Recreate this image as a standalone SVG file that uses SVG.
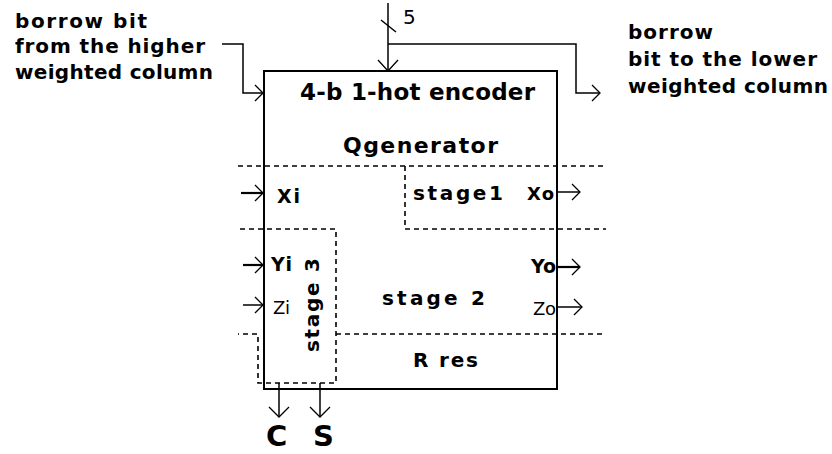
<svg xmlns="http://www.w3.org/2000/svg" width="832" height="454" viewBox="0 0 832 454">
<style>
  text { font-family: "DejaVu Sans", "Liberation Sans", sans-serif; fill: #000; }
  .b { font-weight: bold; }
  .lbl { font-size: 20px; font-weight: bold; }
  .box { fill: #fff; stroke: #000; stroke-width: 2; }
  .dash { fill: none; stroke: #000; stroke-width: 1.6; stroke-dasharray: 5 4; }
  .wire { fill: none; stroke: #000; stroke-width: 1.5; }
  .thick { fill: none; stroke: #000; stroke-width: 2.2; }
  .head { fill: none; stroke: #000; stroke-width: 1.3; }
</style>
<rect width="832" height="454" fill="#fff"/>

<g id="encoder">
  <rect class="box" x="264" y="71" width="293" height="318"/>
  <text class="b" x="300" y="100" font-size="23" textLength="235" lengthAdjust="spacing">4-b 1-hot encoder</text>
  <text class="b" x="343" y="153" font-size="22" textLength="155" lengthAdjust="spacing">Qgenerator</text>
</g>

<g id="regions">
  <path class="dash" d="M238 166 H606"/>
  <path class="dash" d="M405 166 V229 H606"/>
  <path class="dash" d="M240 229 H336 V383 H258 V334 H238"/>
  <path class="dash" d="M336 334 H606"/>
</g>

<g id="stage1">
  <text class="lbl" x="413" y="200" textLength="90" lengthAdjust="spacing">stage1</text>
</g>
<g id="stage2">
  <text class="lbl" x="382" y="305" textLength="103" lengthAdjust="spacing">stage 2</text>
</g>
<g id="stage3">
  <text class="lbl" transform="translate(319 352) rotate(-90)" x="0" y="0" textLength="94" lengthAdjust="spacing">stage 3</text>
</g>
<g id="rres">
  <text class="lbl" x="413" y="367" textLength="65" lengthAdjust="spacing">R res</text>
</g>

<g id="ports">
  <text class="b" x="277" y="203" font-size="19" textLength="23" lengthAdjust="spacing">Xi</text>
  <text class="b" x="271" y="271" font-size="19" textLength="21" lengthAdjust="spacing">Yi</text>
  <text x="273" y="314" font-size="18" textLength="17" lengthAdjust="spacing">Zi</text>
  <text class="b" x="527" y="200" font-size="18" textLength="27" lengthAdjust="spacing">Xo</text>
  <text class="b" x="531" y="273" font-size="19" textLength="25" lengthAdjust="spacing">Yo</text>
  <text x="533" y="315" font-size="18" textLength="23" lengthAdjust="spacing">Zo</text>
  <text class="b" x="266" y="446" font-size="29">C</text>
  <text class="b" x="313" y="446" font-size="29">S</text>
  <text x="403" y="24" font-size="20">5</text>
</g>

<g id="notes">
  <text class="lbl" x="15" y="28" textLength="132" lengthAdjust="spacing">borrow bit</text>
  <text class="lbl" x="15" y="53" textLength="190" lengthAdjust="spacing">from the higher</text>
  <text class="lbl" x="15" y="79" textLength="198" lengthAdjust="spacing">weighted column</text>
  <text class="lbl" x="628" y="39" textLength="85" lengthAdjust="spacing">borrow</text>
  <text class="lbl" x="628" y="66" textLength="189" lengthAdjust="spacing">bit to the lower</text>
  <text class="lbl" x="628" y="93" textLength="200" lengthAdjust="spacing">weighted column</text>
</g>

<g id="connectors">
  <path class="wire" d="M388 3 V71"/>
  <path class="head" d="M378 60 L388 71 L398 60"/>
  <path class="wire" d="M381 20 L396 32"/>
  <path class="wire" d="M388 44 H576 V93 H599"/>
  <path class="head" d="M592 85 L600 93 L592 101"/>
  <path class="wire" d="M222 44 H243 V93 H263"/>
  <path class="head" d="M255 85 L263 93 L255 101"/>
  <path class="thick" d="M241 193 H263"/>
  <path class="head" d="M255 185 L263 193 L255 201"/>
  <path class="thick" d="M243 265 H263"/>
  <path class="head" d="M255 257 L263 265 L255 273"/>
  <path class="wire" d="M243 305 H263"/>
  <path class="head" d="M255 297 L263 305 L255 313"/>
  <path class="wire" d="M557 192 H580"/>
  <path class="head" d="M572 184 L580 192 L572 200"/>
  <path class="thick" d="M557 267 H580"/>
  <path class="head" d="M572 259 L580 267 L572 275"/>
  <path class="wire" d="M557 307 H582"/>
  <path class="head" d="M574 299 L582 307 L574 315"/>
  <path class="wire" d="M279 383 V417"/>
  <path class="head" d="M269 407 L279 417 L289 407"/>
  <path class="wire" d="M320 383 V417"/>
  <path class="head" d="M310 407 L320 417 L330 407"/>
</g>
</svg>
